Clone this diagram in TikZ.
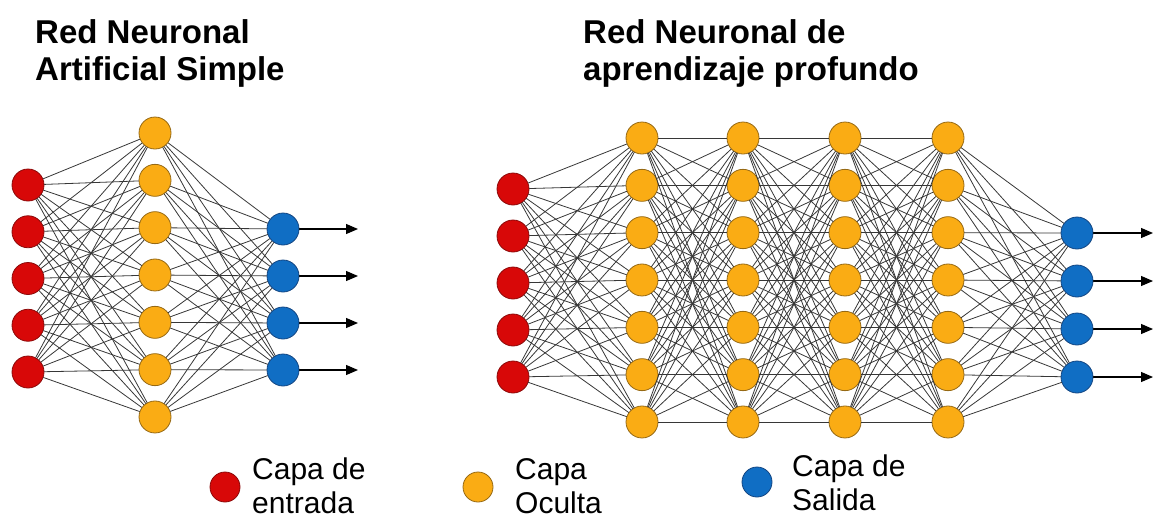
\documentclass[tikz,border=0pt]{standalone}
\usepackage{fontspec}
\setmainfont{Liberation Sans}
\usepackage{tikz}
\usetikzlibrary{arrows.meta, calc, positioning}
\definecolor{rojocapa}{RGB}{216, 8, 8}
\definecolor{rojoborde}{RGB}{140, 10, 10}
\definecolor{naranjacapa}{RGB}{250, 172, 20}
\definecolor{naranjaborde}{RGB}{150, 105, 20}
\definecolor{azulcapa}{RGB}{16, 110, 196}
\definecolor{azulborde}{RGB}{20, 70, 130}
\definecolor{grisenlace}{RGB}{55, 55, 55}

\begin{document}
\begin{tikzpicture}[x=1pt, y=-1pt, line cap=round, line join=round,
    neurona/.style={circle, minimum size=32pt, inner sep=0pt, line width=0.8pt},
    entrada/.style={neurona, fill=rojocapa, draw=rojoborde},
    oculta/.style={neurona, fill=naranjacapa, draw=naranjaborde},
    salida/.style={neurona, fill=azulcapa, draw=azulborde},
    conexion/.style={grisenlace, line width=0.8pt},
    flecha/.style={-{Triangle[length=12pt,width=10pt]}, black, line width=1.2pt},
    titulo/.style={anchor=north west, inner sep=0pt, align=left, font=\bfseries\fontsize{33}{37}\selectfont},
    leyenda/.style={anchor=west, inner sep=0pt, align=left, font=\fontsize{30}{34}\selectfont}]
    	\useasboundingbox (0,0) rectangle (1156,523);
    	
    	% titulos
    	\node[titulo] (T1) at (35,19) {Red Neuronal\\Artificial Simple};
    	\node[titulo] (T2) at (583,19) {Red Neuronal de\\aprendizaje profundo};
    	
    	% red simple
    	\foreach \i in {1,...,5}
    		\node[entrada] (LE\i) at (28,{185+46.75*(\i-1)}) {};
    	\foreach \j in {1,...,7}
    		\node[oculta] (LO\j) at (155,{133+47.33*(\j-1)}) {};
    	\foreach \k in {1,...,4} {
    		\node[salida] (LS\k) at (283,{229+47*(\k-1)}) {};
    		\coordinate (LF\k) at (358,{229+47*(\k-1)});
    	}
    	
		\foreach \i in {1,...,5}
			\foreach \j in {1,...,7}
				\draw[conexion] (LE\i)--(LO\j);
		\foreach \j in {1,...,7}
			\foreach \k in {1,...,4}
				\draw[conexion] (LO\j)--(LS\k);
		\foreach \k in {1,...,4}
			\draw[flecha] (LS\k)--(LF\k);
    	
    	% red profunda
    	\foreach \i in {1,...,5}
    		\node[entrada] (RE\i) at (513,{189+47*(\i-1)}) {};
    	\foreach \l/\x in {1/642, 2/743, 3/845, 4/948}
    		\foreach \j in {1,...,7}
    			\node[oculta] (RH\l\j) at (\x,{138+47.33*(\j-1)}) {};
    	\foreach \k in {1,...,4} {
    		\node[salida] (RS\k) at (1077,{233+48*(\k-1)}) {};
    		\coordinate (RF\k) at (1153,{233+48*(\k-1)});
    	}
    	
		\foreach \i in {1,...,5}
			\foreach \j in {1,...,7}
				\draw[conexion] (RE\i)--(RH1\j);
		\foreach \l/\m in {1/2, 2/3, 3/4}
			\foreach \j in {1,...,7}
				\foreach \n in {1,...,7}
					\draw[conexion] (RH\l\j)--(RH\m\n);
		\foreach \j in {1,...,7}
			\foreach \k in {1,...,4}
				\draw[conexion] (RH4\j)--(RS\k);
		\foreach \k in {1,...,4}
			\draw[flecha] (RS\k)--(RF\k);
    	
    	% leyenda
    	\node[entrada, minimum size=30pt] (CE) at (225,487) {};
    	\node[leyenda] (TE) at (252,486) {Capa de\\entrada};
    	\node[oculta, minimum size=30pt] (CO) at (478,487) {};
    	\node[leyenda] (TO) at (515,486) {Capa\\Oculta};
    	\node[salida, minimum size=30pt] (CS) at (757,482) {};
    	\node[leyenda] (TS) at (792,483) {Capa de\\Salida};
    \end{tikzpicture}
\end{document}
